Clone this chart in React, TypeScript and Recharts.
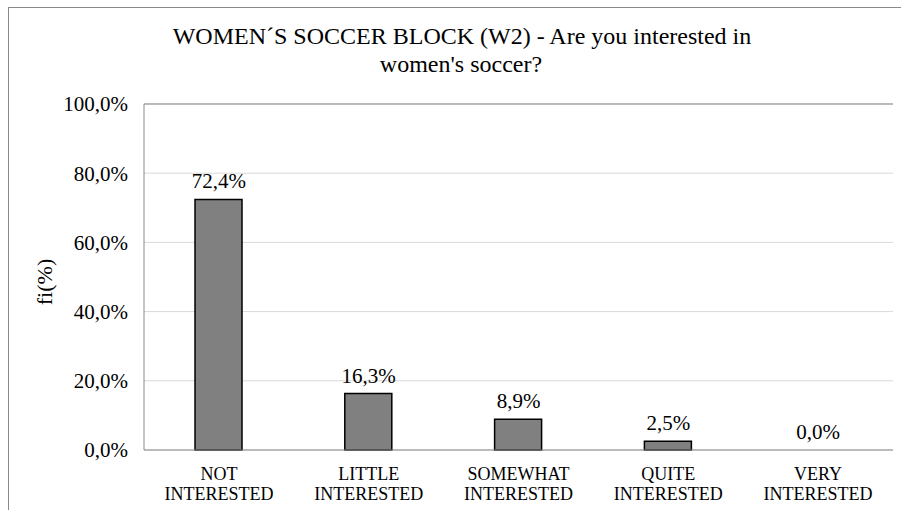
import React from 'react';
import {
  ComposedChart,
  Bar,
  Line,
  XAxis,
  YAxis,
  CartesianGrid,
  LabelList,
  ReferenceLine,
} from 'recharts';

const categories = [
  ['NOT', 'INTERESTED'],
  ['LITTLE', 'INTERESTED'],
  ['SOMEWHAT', 'INTERESTED'],
  ['QUITE', 'INTERESTED'],
  ['VERY', 'INTERESTED'],
];
const values = [72.4, 16.3, 8.9, 2.5, 0.0];
const yTicks = [0, 20, 40, 60, 80, 100];
const titleLines = ['WOMEN\u00B4S SOCCER BLOCK (W2) - Are you interested in', "women's soccer?"];
const yLabel = 'fi(%)';

const data = categories.map((c, i) => ({ key: c.join(' '), lines: c, value: values[i] }));

const FONT = '"Liberation Serif", "Times New Roman", serif';
const BORDER = '#898989';

const pct = (v: number) => `${Number(v).toFixed(1).replace('.', ',')}%`;

function CategoryTick(props: any) {
  const { x, y, payload } = props;
  const item = data.find((d) => d.key === payload.value);
  const lines = item ? item.lines : [String(payload.value)];
  return (
    <text x={x} y={y} textAnchor="middle" fontFamily={FONT} fontSize={18} fill="#000">
      {lines.map((l, i) => (
        <tspan key={i} x={x} dy={i === 0 ? 22 : 20}>
          {l}
        </tspan>
      ))}
    </text>
  );
}

export default function App() {
  return (
    <div style={{ position: 'fixed', left: 0, top: 0, width: 901, height: 510, background: '#fff' }}>
      {/* outer chart frame, cut off at the right and bottom */}
      <div
        style={{
          position: 'absolute',
          left: 8,
          top: 7,
          width: 900,
          height: 510,
          borderLeft: `1px solid ${BORDER}`,
          borderTop: `1px solid ${BORDER}`,
        }}
      />
      <div style={{ position: 'absolute', left: 0, top: 0 }}>
        <ComposedChart
          width={901}
          height={510}
          data={data}
          margin={{ top: 104, right: 8, left: 0, bottom: 0 }}
          barCategoryGap="0%"
        >
          <CartesianGrid stroke="#d9d9d9" vertical={false} />
          <XAxis
            dataKey="key"
            height={60}
            axisLine={{ stroke: BORDER }}
            tickLine={false}
            interval={0}
            tick={<CategoryTick />}
          />
          <YAxis
            width={144}
            domain={[0, 100]}
            ticks={yTicks}
            axisLine={{ stroke: BORDER }}
            tickLine={false}
            tickMargin={10}
            tickFormatter={pct}
            tick={{ fontFamily: FONT, fontSize: 21, fill: '#000' }}
          />
          <YAxis
            yAxisId="right"
            orientation="right"
            width={0}
            domain={[0, 100]}
            tick={false}
            tickLine={false}
            axisLine={{ stroke: BORDER }}
          />
          <ReferenceLine y={100} stroke={BORDER} />
          <Bar
            dataKey="value"
            fill="#808080"
            stroke="#000"
            strokeWidth={1.5}
            barSize={47}
            isAnimationActive={false}
          />
          {/* invisible series carrying the value labels, so the 0,0% label is drawn too */}
          <Line
            dataKey="value"
            stroke="none"
            dot={false}
            activeDot={false}
            legendType="none"
            isAnimationActive={false}
          >
            <LabelList
              dataKey="value"
              position="top"
              offset={11}
              formatter={(v: any) => pct(Number(v))}
              style={{ fontFamily: FONT, fontSize: 21, fill: '#000' }}
            />
          </Line>
        </ComposedChart>
      </div>
      <svg
        width={901}
        height={510}
        style={{ position: 'absolute', left: 0, top: 0, pointerEvents: 'none' }}
      >
        <text x={462} y={44} textAnchor="middle" fontFamily={FONT} fontSize={24} fill="#000">
          {titleLines[0]}
        </text>
        <text x={461} y={72} textAnchor="middle" fontFamily={FONT} fontSize={24} fill="#000">
          {titleLines[1]}
        </text>
        <text
          x={0}
          y={0}
          transform="translate(52 282) rotate(-90)"
          textAnchor="middle"
          fontFamily={FONT}
          fontSize={22}
          fill="#000"
        >
          {yLabel}
        </text>
      </svg>
    </div>
  );
}
